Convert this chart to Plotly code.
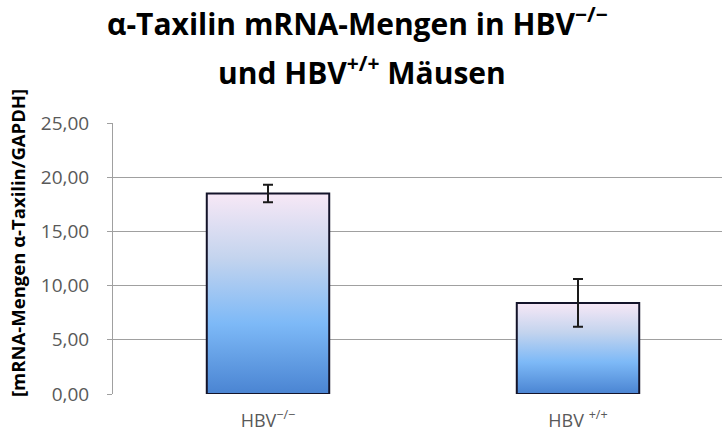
import plotly.graph_objects as go

W, H = 722, 432
FONT = 'Open Sans'

# data
categories = ['HBV<sup>\u2212/\u2212</sup>', 'HBV <sup>+/+</sup>']
values = [18.5, 8.4]
errors = [0.8, 2.2]
y_ticks = [0, 5, 10, 15, 20, 25]

BAR_W = 0.395
# plot area in pixels
L, R, T, B = 113, 0, 123, 38
PLOT_H = H - T - B
PLOT_W = W - L - R
GRAD = [[0.0, '#4A84D2'], [0.35, '#7DB9F7'], [0.68, '#C4D4EE'], [1.0, '#F7E8F6']]


def px_x(px):
    return (px - L) / PLOT_W


def px_y(py):
    return (H - B - py) / PLOT_H


fig = go.Figure()

for i, v in enumerate(values):
    x0, x1 = i - BAR_W / 2, i + BAR_W / 2
    fig.add_trace(go.Scatter(
        x=[x0, x1, x1, x0, x0],
        y=[0, 0, v, v, 0],
        mode='lines',
        fill='toself',
        fillgradient=dict(type='vertical', colorscale=GRAD),
        line=dict(color='#14142a', width=2),
        hoverinfo='skip',
        showlegend=False,
    ))

# error bars
fig.add_trace(go.Scatter(
    x=list(range(len(values))),
    y=values,
    mode='markers',
    marker=dict(size=1, color='rgba(0,0,0,0)'),
    error_y=dict(type='data', array=errors, visible=True,
                 color='#1a1a1a', thickness=2, width=5),
    showlegend=False,
))

fig.update_layout(
    width=W, height=H,
    margin=dict(l=L, r=R, t=T, b=B),
    paper_bgcolor='white',
    plot_bgcolor='white',
    separators=',.',
    showlegend=False,
    font=dict(family=FONT, color='#595959'),
    annotations=[
        dict(text='<b>\u03b1-Taxilin mRNA-Mengen in HBV<sup>\u2212/\u2212</sup></b>',
             x=px_x(357), y=px_y(22), xref='paper', yref='paper',
             xanchor='center', yanchor='middle', showarrow=False,
             font=dict(size=30, color='black', family=FONT)),
        dict(text='<b>und HBV<sup>+/+</sup> M\u00e4usen</b>',
             x=px_x(362), y=px_y(71), xref='paper', yref='paper',
             xanchor='center', yanchor='middle', showarrow=False,
             font=dict(size=30, color='black', family=FONT)),
        dict(text='<b>[mRNA-Mengen \u03b1-Taxilin/GAPDH]</b>',
             x=px_x(17), y=px_y(243), xref='paper', yref='paper',
             xanchor='center', yanchor='middle', textangle=-90, showarrow=False,
             font=dict(size=18.5, color='black', family=FONT)),
    ],
)

fig.update_xaxes(
    range=[-0.5, -0.5 + PLOT_W / 310],
    tickvals=list(range(len(categories))),
    ticktext=categories,
    showgrid=False,
    zeroline=False,
    showline=False,
    ticks='',
    tickfont=dict(size=18, color='#595959'),
    ticklabelstandoff=14,
    automargin=False,
)

fig.update_yaxes(
    range=[0, 25],
    tickvals=y_ticks,
    tickformat='.2f',
    showgrid=True,
    gridcolor='#A0A0A0',
    gridwidth=1,
    zeroline=False,
    showline=True,
    linecolor='#A0A0A0',
    linewidth=1,
    ticks='outside',
    ticklen=5,
    tickcolor='#A0A0A0',
    tickfont=dict(size=19, color='#595959'),
    ticklabelstandoff=14,
    automargin=False,
)

fig.write_html('out.html', config={'displayModeBar': False},
               post_script="document.body.style.margin='0';")
